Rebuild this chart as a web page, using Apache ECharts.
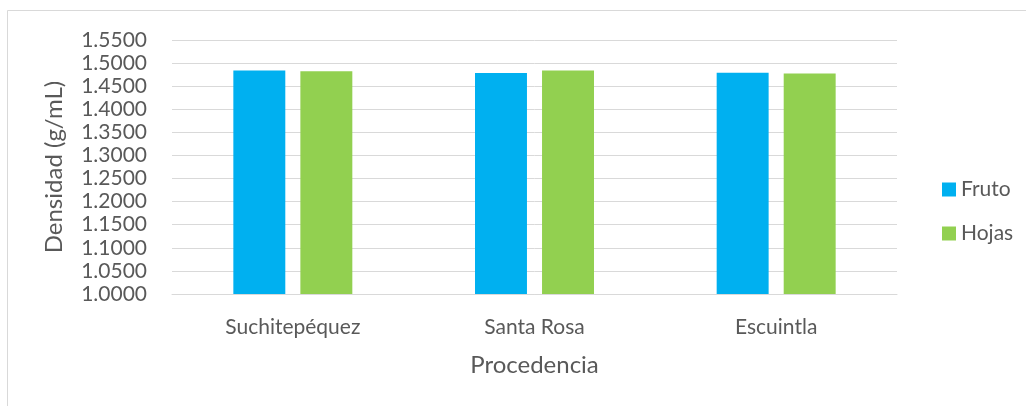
<!DOCTYPE html>
<html>
<head>
<meta charset="utf-8">
<script src="https://cdn.jsdelivr.net/npm/echarts@6/dist/echarts.min.js"></script>
<style>
html,body{margin:0;padding:0;background:#fff;}
#c{width:1026px;height:406px;}
</style>
</head>
<body>
<div id="c"></div>
<script>
const categories = ['Suchitepéquez', 'Santa Rosa', 'Escuintla'];
const fruto = [1.4841, 1.4783, 1.4790];
const hojas = [1.4826, 1.4841, 1.4776];
const yMin = 1.0, yMax = 1.55, yStep = 0.05;

const txt = '#595959';
const font = 'Lato';
const chart = echarts.init(document.getElementById('c'), null, {renderer: 'canvas'});
chart.setOption({
  backgroundColor: '#fff',
  animation: false,
  textStyle: {fontFamily: font},
  graphic: [{
    type: 'rect', silent: true,
    shape: {x: 7.5, y: 10.5, width: 1040, height: 420},
    style: {fill: 'none', stroke: '#d9d9d9', lineWidth: 1}
  }],
  grid: {left: 172, right: 129, top: 40, bottom: 112},
  legend: {
    orient: 'vertical', left: 937, top: 174,
    itemWidth: 14, itemHeight: 14, itemGap: 23,
    icon: 'rect',
    textStyle: {color: txt, fontSize: 21, fontFamily: font},
    data: ['Fruto', 'Hojas']
  },
  xAxis: {
    type: 'category', data: categories,
    name: 'Procedencia', nameLocation: 'middle', nameGap: 59,
    nameTextStyle: {color: txt, fontSize: 24, fontFamily: font},
    axisLine: {lineStyle: {color: '#d9d9d9', width: 1}},
    axisTick: {show: false},
    axisLabel: {color: txt, fontSize: 21, margin: 23, fontFamily: font}
  },
  yAxis: {
    type: 'value', min: yMin, max: yMax, interval: yStep,
    name: 'Densidad (g/mL)', nameLocation: 'middle', nameGap: 106,
    nameTextStyle: {color: txt, fontSize: 24, fontFamily: font},
    axisLine: {show: false}, axisTick: {show: false},
    splitLine: {lineStyle: {color: '#d9d9d9', width: 1}},
    axisLabel: {color: txt, fontSize: 21, margin: 25, fontFamily: font,
      formatter: v => v.toFixed(4)}
  },
  series: [
    {name: 'Fruto', type: 'bar', data: fruto, barWidth: '21.5%', barGap: '29%',
     itemStyle: {color: '#00b0f0'}},
    {name: 'Hojas', type: 'bar', data: hojas, barWidth: '21.5%', barGap: '29%',
     itemStyle: {color: '#92d050'}}
  ]
});
</script>
</body>
</html>
